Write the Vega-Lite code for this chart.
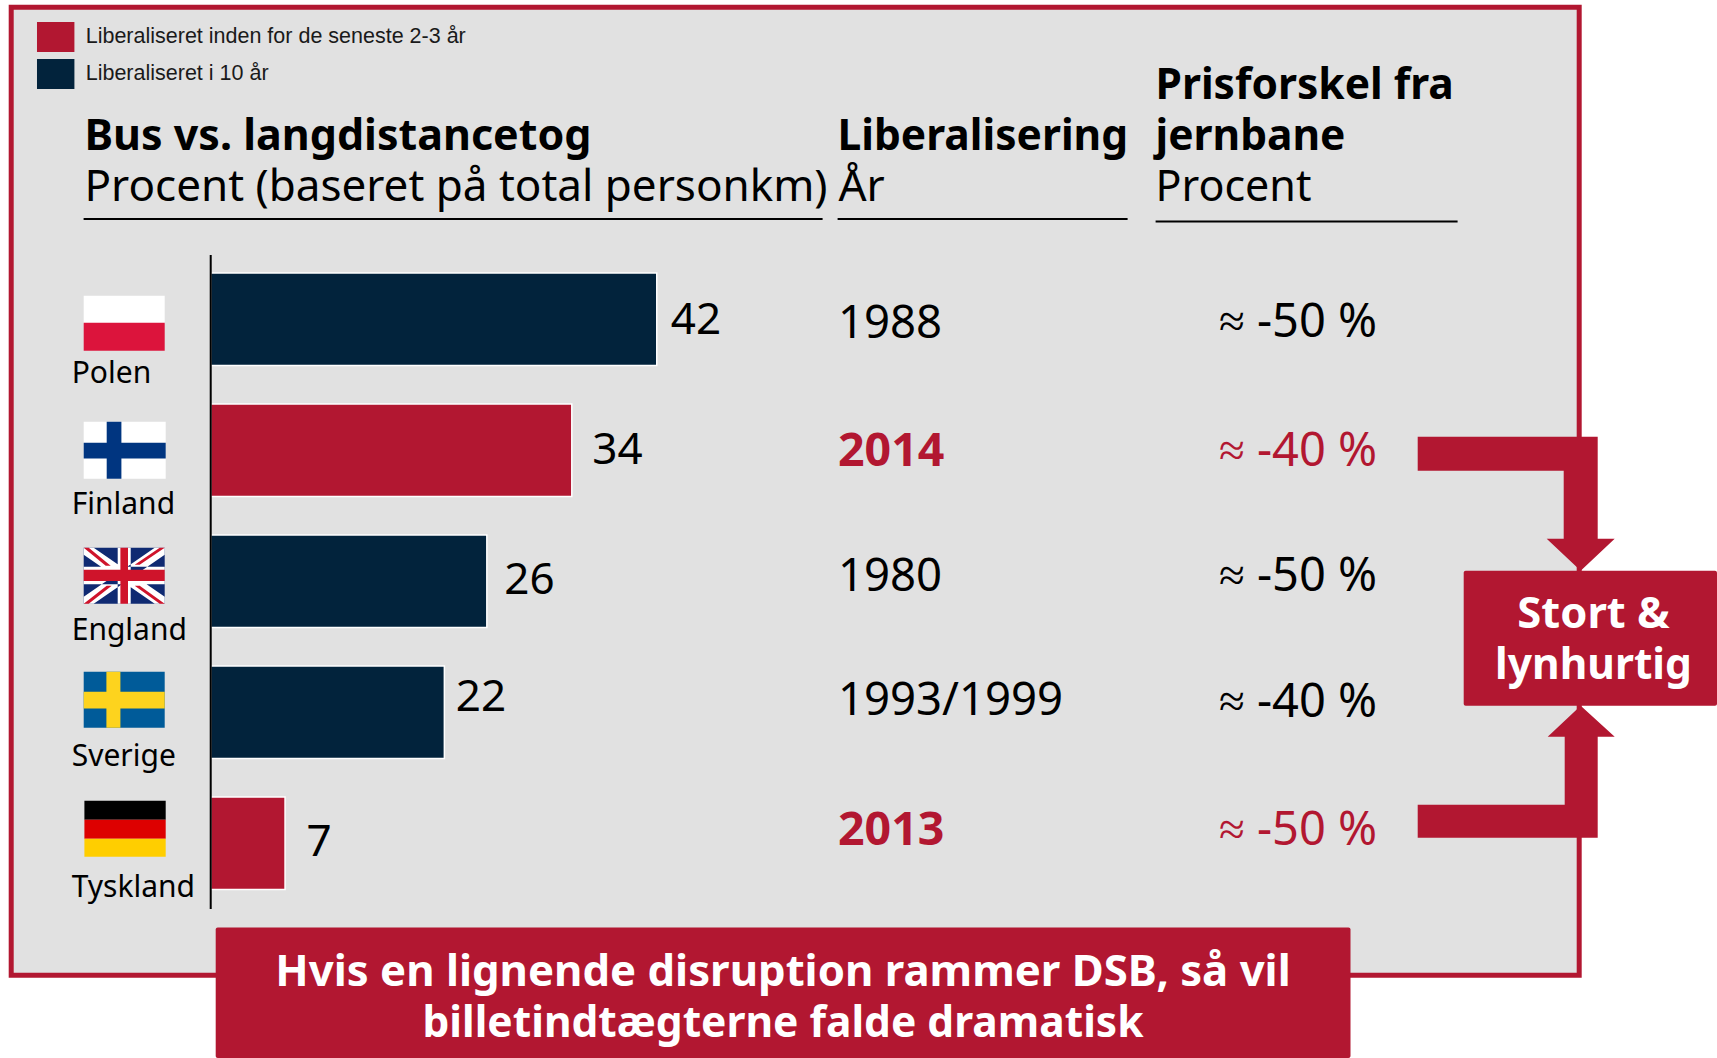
{
"$schema":"https://vega.github.io/schema/vega-lite/v6.json",
"width":1717,"height":1058,"padding":0,
"autosize":{"type":"fit","contains":"padding"},
"background":"#ffffff",
"config":{"view":{"stroke":null},"text":{"font":"Noto Sans","baseline":"alphabetic","align":"left"}},
"datasets":{
"lande":[
{"land":"Polen","andel":42,"aar":"1988","pris":"≈ -50 %","periode":"Liberaliseret i 10 år"},
{"land":"Finland","andel":34,"aar":"2014","pris":"≈ -40 %","periode":"Liberaliseret inden for de seneste 2-3 år"},
{"land":"England","andel":26,"aar":"1980","pris":"≈ -50 %","periode":"Liberaliseret i 10 år"},
{"land":"Sverige","andel":22,"aar":"1993/1999","pris":"≈ -40 %","periode":"Liberaliseret i 10 år"},
{"land":"Tyskland","andel":7,"aar":"2013","pris":"≈ -50 %","periode":"Liberaliseret inden for de seneste 2-3 år"}
],
"en":[{}]
},
"layer":[
{"data":{"name":"en"},"mark":{"type":"rect","x":11.2,"x2":1579.2,"y":7.2,"y2":975.2,"fill":"#e1e1e1","stroke":"#b21731","strokeWidth":5},"encoding":{}},
{"data":{"name":"en"},"mark":{"type":"rect","x":83.6,"x2":822.6,"y":218,"y2":220,"fill":"#000"},"encoding":{}},
{"data":{"name":"en"},"mark":{"type":"rect","x":837.6,"x2":1127.6,"y":218,"y2":220,"fill":"#000"},"encoding":{}},
{"data":{"name":"en"},"mark":{"type":"rect","x":1155.6,"x2":1457.6,"y":220.5,"y2":222.5,"fill":"#000"},"encoding":{}},
{"data":{"name":"en"},"mark":{"type":"point","x":-0.3,"y":-0.3,"size":4,"filled":true,"opacity":1,"strokeWidth":0,"fill":"#ffffff","shape":"M84 296H165V324H84Z M84 422H166V479H84Z"},"encoding":{}},
{"data":{"name":"en"},"mark":{"type":"point","x":-0.3,"y":-0.3,"size":4,"filled":true,"opacity":1,"strokeWidth":0,"fill":"#dc143c","shape":"M84 323H165V351H84Z"},"encoding":{}},
{"data":{"name":"en"},"mark":{"type":"point","x":-0.3,"y":-0.3,"size":4,"filled":true,"opacity":1,"strokeWidth":0,"fill":"#003580","shape":"M107 422H121.7V479H107Z M84 443H166V458.7H84Z"},"encoding":{}},
{"data":{"name":"en"},"mark":{"type":"point","x":-0.3,"y":-0.3,"size":4,"filled":true,"opacity":1,"strokeWidth":0,"fill":"#0f2a72","shape":"M84 548H165V604H84Z"},"encoding":{}},
{"data":{"name":"en"},"mark":{"type":"point","x":-0.3,"y":-0.3,"size":4,"filled":true,"opacity":1,"strokeWidth":0,"fill":"#ffffff","shape":"M84 548H94L165 597V604H155L84 555Z M165 548H155L84 597V604H94L165 555Z M118 548H131V604H118Z M84 567H165V584.5H84Z"},"encoding":{}},
{"data":{"name":"en"},"mark":{"type":"point","x":-0.3,"y":-0.3,"size":4,"filled":true,"opacity":1,"strokeWidth":0,"fill":"#cf142b","shape":"M84 548H89L111 566H106Z M165 604H160L135 586H140Z M165 548H160L135 565H140Z M84 604H89L112 586H107Z M120.7 548H128.3V604H120.7Z M84 570H165V581.3H84Z"},"encoding":{}},
{"data":{"name":"en"},"mark":{"type":"point","x":-0.3,"y":-0.3,"size":4,"filled":true,"opacity":1,"strokeWidth":0,"fill":"#005b99","shape":"M84 672H165V728H84Z"},"encoding":{}},
{"data":{"name":"en"},"mark":{"type":"point","x":-0.3,"y":-0.3,"size":4,"filled":true,"opacity":1,"strokeWidth":0,"fill":"#fdd31e","shape":"M106.7 672H120.7V728H106.7Z M84 692H165V708.7H84Z"},"encoding":{}},
{"data":{"name":"en"},"mark":{"type":"point","x":-0.3,"y":-0.3,"size":4,"filled":true,"opacity":1,"strokeWidth":0,"fill":"#000000","shape":"M84.7 801H166V820H84.7Z"},"encoding":{}},
{"data":{"name":"en"},"mark":{"type":"point","x":-0.3,"y":-0.3,"size":4,"filled":true,"opacity":1,"strokeWidth":0,"fill":"#dd0000","shape":"M84.7 820H166V839H84.7Z"},"encoding":{}},
{"data":{"name":"en"},"mark":{"type":"point","x":-0.3,"y":-0.3,"size":4,"filled":true,"opacity":1,"strokeWidth":0,"fill":"#ffce00","shape":"M84.7 839H166V857H84.7Z"},"encoding":{}},
{"data":{"name":"lande"},
 "mark":{"type":"bar","stroke":"#ffffff","strokeWidth":1.5},
 "encoding":{
  "y":{"field":"land","type":"nominal","axis":null,"scale":{"domain":["Polen","Finland","England","Sverige","Tyskland"],"range":[253.7,908.7],"paddingInner":0.295,"paddingOuter":0.1475}},
  "x":{"field":"andel","type":"quantitative","axis":null,"scale":{"domain":[-19.84,141.83],"nice":false,"zero":false}},
  "color":{"field":"periode","type":"nominal","scale":{"domain":["Liberaliseret inden for de seneste 2-3 år","Liberaliseret i 10 år"],"range":["#b21731","#02233c"]},
   "legend":{"orient":"none","legendX":36.7,"legendY":18,"title":null,"padding":0,"symbolType":"M-1,-0.8H1V0.8H-1Z","symbolSize":1400,"symbolStrokeWidth":0,"symbolStrokeColor":"transparent","symbolOpacity":1,"rowPadding":3,"labelFont":"Liberation Sans","labelFontSize":21.5,"labelColor":"#1a1a1a","labelOffset":11,"labelLimit":500}}
 }},
{"data":{"name":"en"},"mark":{"type":"rule","y":255,"y2":909,"stroke":"#000","strokeWidth":2},"encoding":{"x":{"datum":0,"type":"quantitative"}}},
{"data":{"name":"lande"},
 "mark":{"type":"text","fontSize":44,"fill":"#000",
  "dx":{"expr":"{'Polen':14,'Finland':20.5,'England':17.5,'Sverige':11.5,'Tyskland':21.5}[datum.land]"},
  "yOffset":{"expr":"{'Polen':15,'Finland':14,'England':13,'Sverige':-1,'Tyskland':12.5}[datum.land]"}},
 "encoding":{"y":{"field":"land","type":"nominal"},"x":{"field":"andel","type":"quantitative"},"text":{"field":"andel","type":"quantitative"},"color":{"value":"#000"}}},
{"data":{"name":"lande"},
 "mark":{"type":"text","fontSize":30,"fill":"#000",
  "yOffset":{"expr":"{'Polen':64,'Finland':64,'England':58.5,'Sverige':54,'Tyskland':54}[datum.land]"}},
 "encoding":{"y":{"field":"land","type":"nominal"},"x":{"value":71.7},"text":{"field":"land"},"color":{"value":"#000"}}},
{"data":{"name":"lande"},
 "mark":{"type":"text",
  "fontSize":{"expr":"datum.periode==='Liberaliseret i 10 år'?45.5:46.5"},
  "fontWeight":{"expr":"datum.periode==='Liberaliseret i 10 år'?'normal':'bold'"},
  "yOffset":{"expr":"{'Polen':18.5,'Finland':15.5,'England':9.5,'Sverige':2.5,'Tyskland':1.5}[datum.land]"}},
 "encoding":{"y":{"field":"land","type":"nominal"},"x":{"value":838},"text":{"field":"aar"},
  "color":{"condition":{"test":"datum.periode==='Liberaliseret i 10 år'","value":"#000000"},"value":"#b21731"}}},
{"data":{"name":"lande"},
 "mark":{"type":"text","fontSize":47,"align":"center",
  "yOffset":{"expr":"{'Polen':18,'Finland':15.5,'England':9.5,'Sverige':5,'Tyskland':1.5}[datum.land]"}},
 "encoding":{"y":{"field":"land","type":"nominal"},"x":{"value":1298},"text":{"field":"pris"},
  "color":{"condition":{"test":"datum.periode==='Liberaliseret i 10 år'","value":"#000000"},"value":"#b21731"}}},
{"data":{"name":"en"},"mark":{"type":"text","x":84.5,"y":149.5,"fontSize":43,"fontWeight":"bold","fill":"#000","text":"Bus vs. langdistancetog"},"encoding":{}},
{"data":{"name":"en"},"mark":{"type":"text","x":84.5,"y":201,"fontSize":44,"fill":"#000","text":"Procent (baseret på total personkm)"},"encoding":{}},
{"data":{"name":"en"},"mark":{"type":"text","x":837.5,"y":150,"fontSize":42.5,"fontWeight":"bold","fill":"#000","text":"Liberalisering"},"encoding":{}},
{"data":{"name":"en"},"mark":{"type":"text","x":838.5,"y":201,"fontSize":44,"fill":"#000","text":"År"},"encoding":{}},
{"data":{"name":"en"},"mark":{"type":"text","x":1155.5,"y":99,"fontSize":42.5,"fontWeight":"bold","fill":"#000","text":"Prisforskel fra"},"encoding":{}},
{"data":{"name":"en"},"mark":{"type":"text","x":1155.5,"y":150,"fontSize":42.5,"fontWeight":"bold","fill":"#000","text":"jernbane"},"encoding":{}},
{"data":{"name":"en"},"mark":{"type":"text","x":1155.5,"y":201,"fontSize":43,"fill":"#000","text":"Procent"},"encoding":{}},
{"data":{"name":"en"},"mark":{"type":"point","x":-0.3,"y":-0.3,"size":4,"filled":true,"opacity":1,"strokeWidth":0,"fill":"#b21731","shape":"M1418 437H1598V539H1615L1581 571L1547 539H1564V471H1418Z M1418 838H1598V737H1615L1581 706L1548 737H1565V805H1418Z"},"encoding":{}},
{"data":{"name":"en"},"mark":{"type":"rect","x":1463.7,"x2":1717,"y":570.7,"y2":705.7,"fill":"#b21731","cornerRadius":2},"encoding":{}},
{"data":{"name":"en"},"mark":{"type":"text","x":1593.5,"y":628,"align":"center","fontSize":43.5,"fontWeight":"bold","fill":"#fff","text":"Stort &"},"encoding":{}},
{"data":{"name":"en"},"mark":{"type":"text","x":1593.5,"y":679,"align":"center","fontSize":42.5,"fontWeight":"bold","fill":"#fff","text":"lynhurtig"},"encoding":{}},
{"data":{"name":"en"},"mark":{"type":"rect","x":215.7,"x2":1350.5,"y":927.5,"y2":1058,"fill":"#b21731","cornerRadius":2},"encoding":{}},
{"data":{"name":"en"},"mark":{"type":"text","x":783,"y":986,"align":"center","fontSize":43.7,"fontWeight":"bold","fill":"#fff","text":"Hvis en lignende disruption rammer DSB, så vil"},"encoding":{}},
{"data":{"name":"en"},"mark":{"type":"text","x":783,"y":1037,"align":"center","fontSize":42.5,"fontWeight":"bold","fill":"#fff","text":"billetindtægterne falde dramatisk"},"encoding":{}}
]
}
